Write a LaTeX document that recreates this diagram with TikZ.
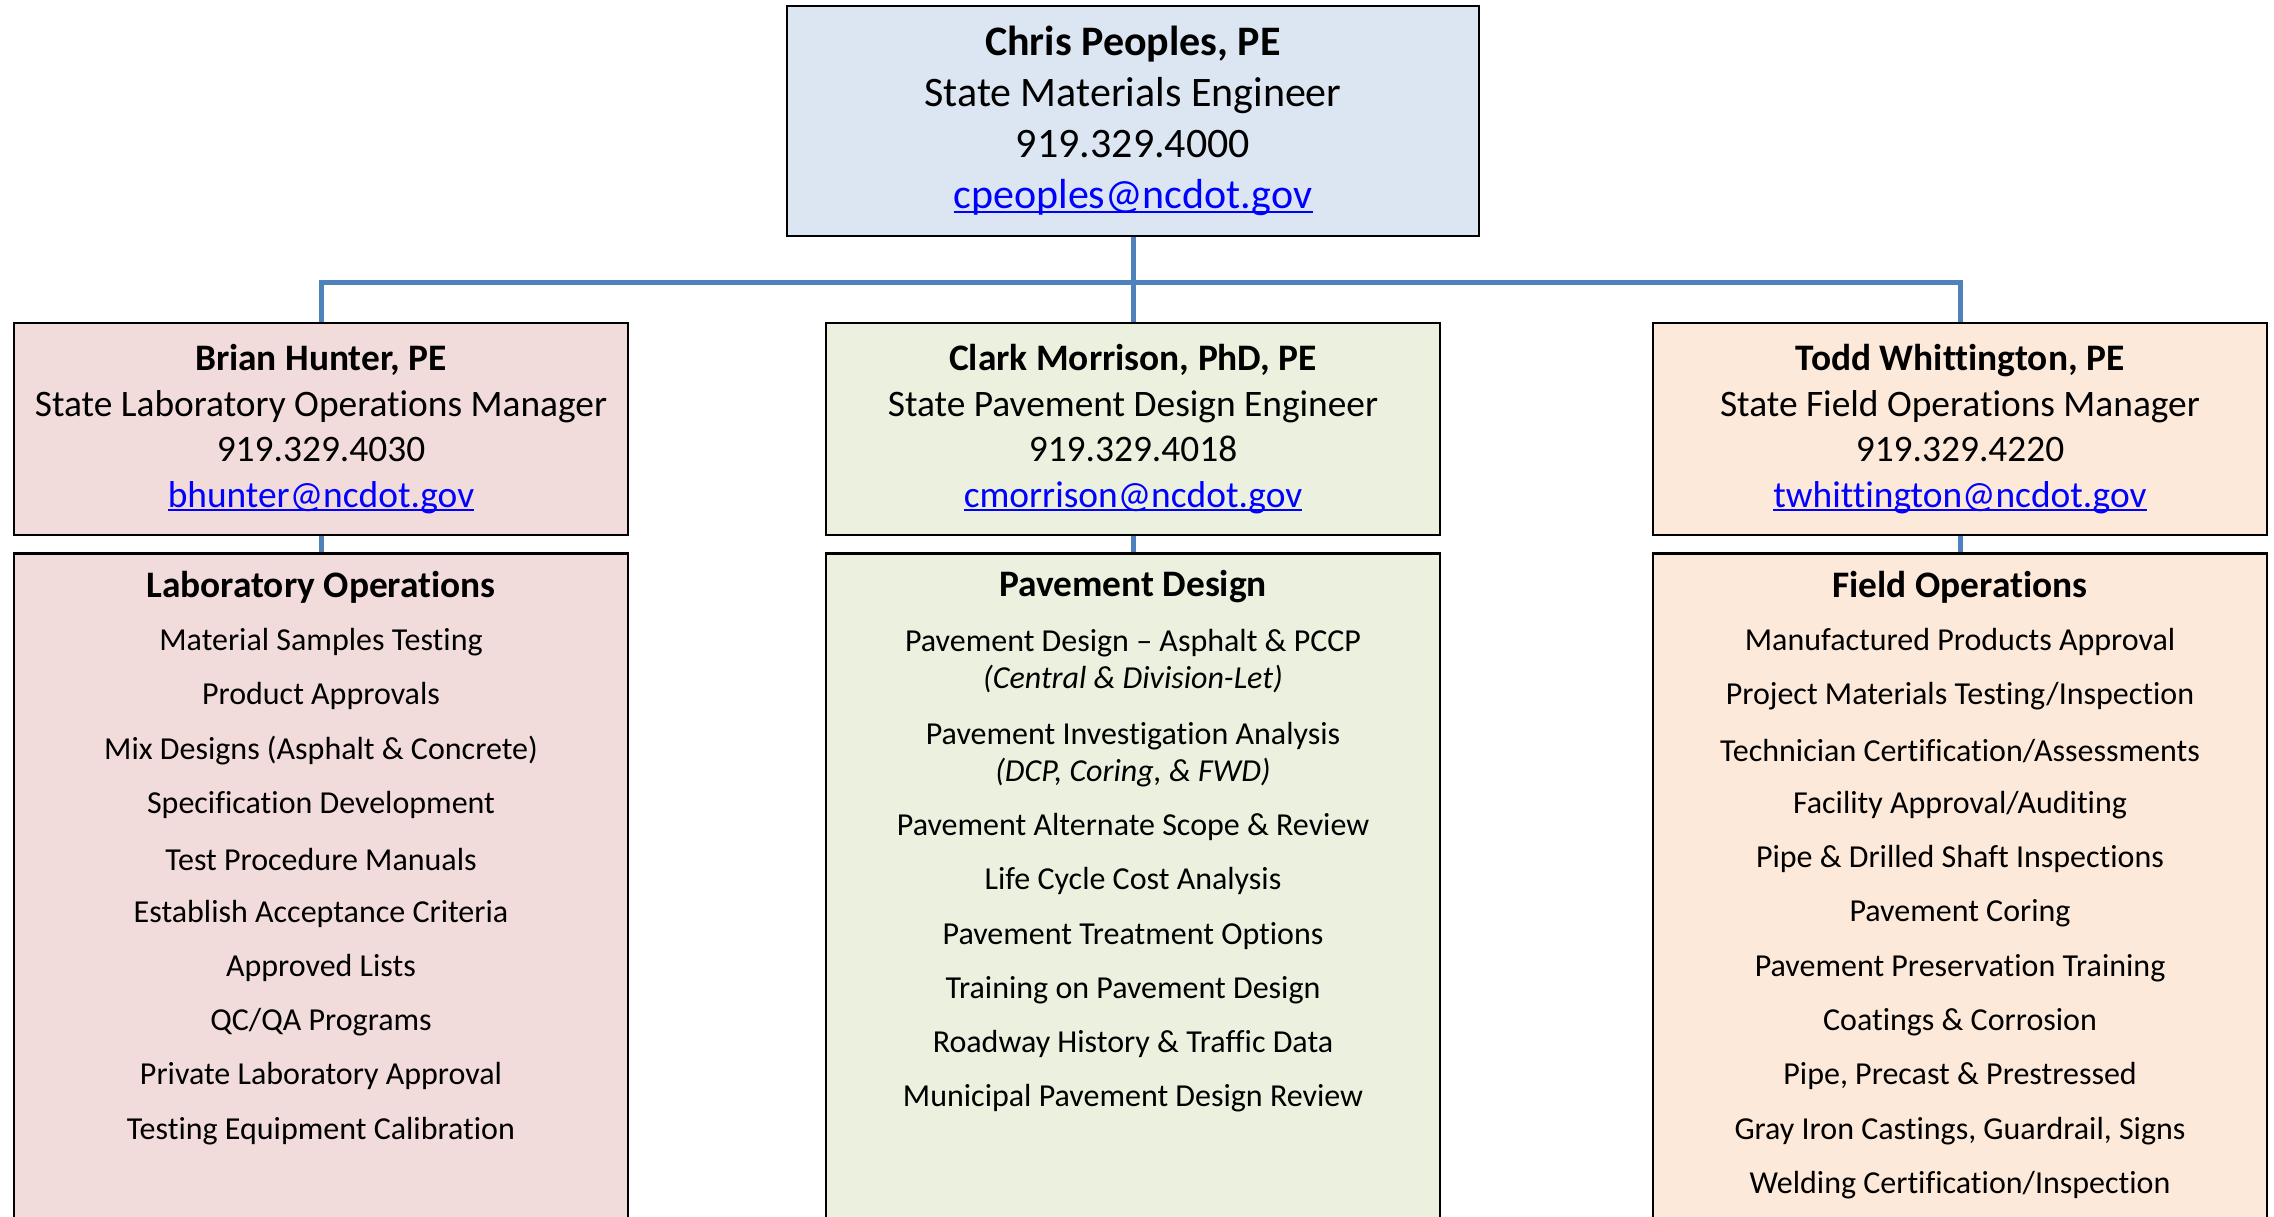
\documentclass[tikz,border=0pt]{standalone}
\usepackage{fontspec}
\setmainfont{Carlito}[Ligatures=CommonOff]
\usetikzlibrary{positioning}
\definecolor{chiefblue}{HTML}{DCE6F2}
\definecolor{labpink}{HTML}{F2DCDB}
\definecolor{pavegreen}{HTML}{EBF1DE}
\definecolor{fieldorange}{HTML}{FDE9D9}
\definecolor{linkblue}{HTML}{0000FF}
\definecolor{buscolor}{HTML}{4F81BD}
\newcommand{\mail}[1]{{\color{linkblue}\setbox0\hbox{#1}\rlap{\rule[-0.11em]{\wd0}{0.055em}}\box0}}
\begin{document}
\begin{tikzpicture}
[x=0.5pt,y=-0.5pt,
 chiefdecorate/.style={draw,line width=1.2pt,fill=chiefblue,minimum width=346pt,minimum height=115pt,align=center,font=\fontsize{21}{25.5}\selectfont},
 headdecorate/.style={draw,line width=1.2pt,minimum width=307pt,minimum height=106pt,align=center,font=\fontsize{18.7}{22.8}\selectfont},
 listdecorate/.style={draw,line width=1.2pt,minimum width=307pt,minimum height=340pt,anchor=north},
 titledecorate/.style={font=\bfseries\fontsize{18.7}{22.8}\selectfont},
 itemdecorate/.style={align=center,font=\fontsize{16}{18.5}\selectfont},
 linedecorate/.style={-,draw=buscolor,line width=2.5pt}]
\clip (0,0) rectangle (2274,1216);
%%% state materials engineer
\node (chief) at (1133,121) [chiefdecorate] {\textbf{Chris Peoples, PE}\\State Materials Engineer\\919.329.4000\\\mail{cpeoples@ncdot.gov}};
%%% managers
% boxes
\node (lab) at (321,429) [headdecorate,fill=labpink] {\textbf{Brian Hunter, PE}\\State Laboratory Operations Manager\\919.329.4030\\\mail{bhunter@ncdot.gov}};
\node (pave) at (1133,429) [headdecorate,fill=pavegreen] {\textbf{Clark Morrison, PhD, PE}\\State Pavement Design Engineer\\919.329.4018\\\mail{cmorrison@ncdot.gov}};
\node (field) at (1960,429) [headdecorate,fill=fieldorange] {\textbf{Todd Whittington, PE}\\State Field Operations Manager\\919.329.4220\\\mail{twhittington@ncdot.gov}};
% duty lists
\node (labbox) [listdecorate,fill=labpink,below=8pt of lab] {};
\node (pavebox) [listdecorate,fill=pavegreen,below=8pt of pave] {};
\node (fieldbox) [listdecorate,fill=fieldorange,below=8pt of field] {};
%%% connectors
\coordinate (bus) at (1133,282);
\draw[linedecorate] (chief.south) -- (bus);
\draw[linedecorate] (bus) -| (lab.north);
\draw[linedecorate] (bus) -| (field.north);
\draw[linedecorate] (bus) -- (pave.north);
\draw[linedecorate] (lab.south) -- (labbox.north);
\draw[linedecorate] (pave.south) -- (pavebox.north);
\draw[linedecorate] (field.south) -- (fieldbox.north);
%%% laboratory operations
\node (labtitle) at (321,587) [titledecorate] {Laboratory Operations};
\foreach \duty [count=\i] in {Material Samples Testing,Product Approvals,Mix Designs (Asphalt \& Concrete),Specification Development,Test Procedure Manuals,Establish Acceptance Criteria,Approved Lists,QC/QA Programs,Private Laboratory Approval,Testing Equipment Calibration}
  \node (lab\i) at (321,642+54.3*\i-54.3) [itemdecorate] {\duty};
%%% pavement design
\node (pavetitle) at (1133,587) [titledecorate] {Pavement Design};
\node (pave1) at (1133,661) [itemdecorate] {Pavement Design -- Asphalt \& PCCP\\\textit{(Central \& Division-Let)}};
\node (pave2) at (1133,755) [itemdecorate] {Pavement Investigation Analysis\\\textit{(DCP, Coring, \& FWD)}};
\foreach \duty [count=\i from 3] in {Pavement Alternate Scope \& Review,Life Cycle Cost Analysis,Pavement Treatment Options,Training on Pavement Design,Roadway History \& Traffic Data,Municipal Pavement Design Review}
  \node (pave\i) at (1133,827+54.3*\i-162.9) [itemdecorate] {\duty};
%%% field operations
\node (fieldtitle) at (1960,587) [titledecorate] {Field Operations};
\foreach \duty [count=\i] in {Manufactured Products Approval,Project Materials Testing/Inspection,Technician Certification/Assessments,Facility Approval/Auditing,Pipe \& Drilled Shaft Inspections,Pavement Coring,Pavement Preservation Training,Coatings \& Corrosion,{Pipe, Precast \& Prestressed},{Gray Iron Castings, Guardrail, Signs},Welding Certification/Inspection}
  \node (field\i) at (1960,642+54.3*\i-54.3) [itemdecorate] {\duty};
\end{tikzpicture}
\end{document}
